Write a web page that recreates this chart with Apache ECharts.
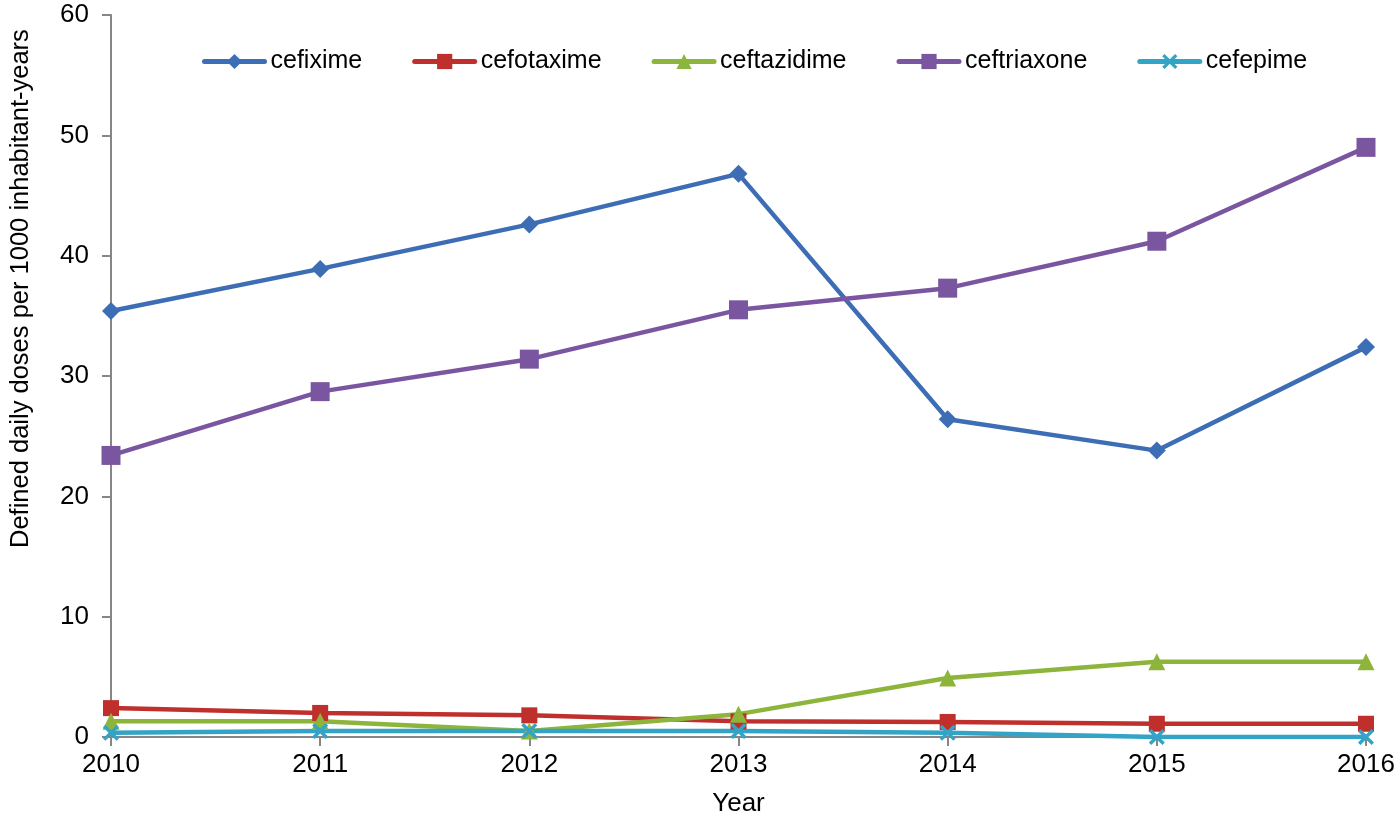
<!DOCTYPE html>
<html>
<head>
<meta charset="utf-8">
<script src="https://cdn.jsdelivr.net/npm/echarts@6/dist/echarts.min.js"></script>
<style>html,body{margin:0;padding:0;background:#fff}#c{width:1400px;height:822px}</style>
</head>
<body>
<div id="c"></div>
<script>
const years = ['2010','2011','2012','2013','2014','2015','2016'];
const cefixime = [35.4, 38.9, 42.6, 46.8, 26.4, 23.8, 32.4];
const cefotaxime = [2.4, 2.0, 1.8, 1.3, 1.25, 1.1, 1.1];
const ceftazidime = [1.3, 1.3, 0.5, 1.9, 4.9, 6.25, 6.25];
const ceftriaxone = [23.4, 28.7, 31.4, 35.5, 37.3, 41.2, 49.0];
const cefepime = [0.35, 0.5, 0.5, 0.5, 0.35, 0, 0];
const yTicks = [0, 10, 20, 30, 40, 50, 60];

const FONT = 'Liberation Sans';
const crossPath = 'path://M0,1.5L1.5,0L5,3.5L8.5,0L10,1.5L6.5,5L10,8.5L8.5,10L5,6.5L1.5,10L0,8.5L3.5,5Z';

function mk(name, data, color, symbol, size) {
  return {
    name, type: 'line', data, symbol, symbolSize: size,
    lineStyle: { color, width: 4.5 },
    itemStyle: { color },
    z: 2
  };
}

const chart = echarts.init(document.getElementById('c'));
chart.setOption({
  animation: false,
  backgroundColor: '#fff',
  textStyle: { fontFamily: FONT },
  grid: { left: 111, right: 34, top: 15, bottom: 85 },
  legend: {
    left: 197, top: 44,
    itemWidth: 60, itemHeight: 19, itemGap: 50,
    lineStyle: { width: 5, cap: 'round' },
    textStyle: { fontSize: 25, color: '#000', fontFamily: FONT, padding: [0, 0, 0, 1] },
    data: ['cefixime','cefotaxime','ceftazidime','ceftriaxone','cefepime']
  },
  xAxis: {
    type: 'category', data: years, boundaryGap: false,
    axisLine: { lineStyle: { color: '#868686', width: 2 } },
    axisTick: { show: true, alignWithLabel: true, length: 9, lineStyle: { color: '#868686', width: 2 } },
    axisLabel: { fontSize: 26, color: '#000', margin: 15, fontFamily: FONT },
    name: 'Year', nameLocation: 'middle', nameGap: 54,
    nameTextStyle: { fontSize: 26, color: '#000', fontFamily: FONT }
  },
  yAxis: {
    type: 'value', min: 0, max: 60, interval: 10,
    axisLine: { show: true, lineStyle: { color: '#868686', width: 2 } },
    axisTick: { show: true, length: 9, lineStyle: { color: '#868686', width: 2 } },
    splitLine: { show: false },
    axisLabel: { fontSize: 26, color: '#000', margin: 22, fontFamily: FONT,
      formatter: v => yTicks.includes(v) ? String(v) : '' }
  },
  graphic: [{
    type: 'text', x: 8, y: 548,
    rotation: Math.PI / 2,
    style: { text: 'Defined daily doses per 1000 inhabitant-years', fontSize: 25.5, fill: '#000', fontFamily: FONT,
      textAlign: 'left', textVerticalAlign: 'top' }
  }],
  series: [
    mk('cefixime', cefixime, '#3d6eb5', 'diamond', 18),
    mk('cefotaxime', cefotaxime, '#bf2f2c', 'rect', 16),
    mk('ceftazidime', ceftazidime, '#8db53c', 'triangle', 17),
    mk('ceftriaxone', ceftriaxone, '#7a56a0', 'rect', 19),
    mk('cefepime', cefepime, '#33a3c6', crossPath, 16)
  ]
});
</script>
</body>
</html>
